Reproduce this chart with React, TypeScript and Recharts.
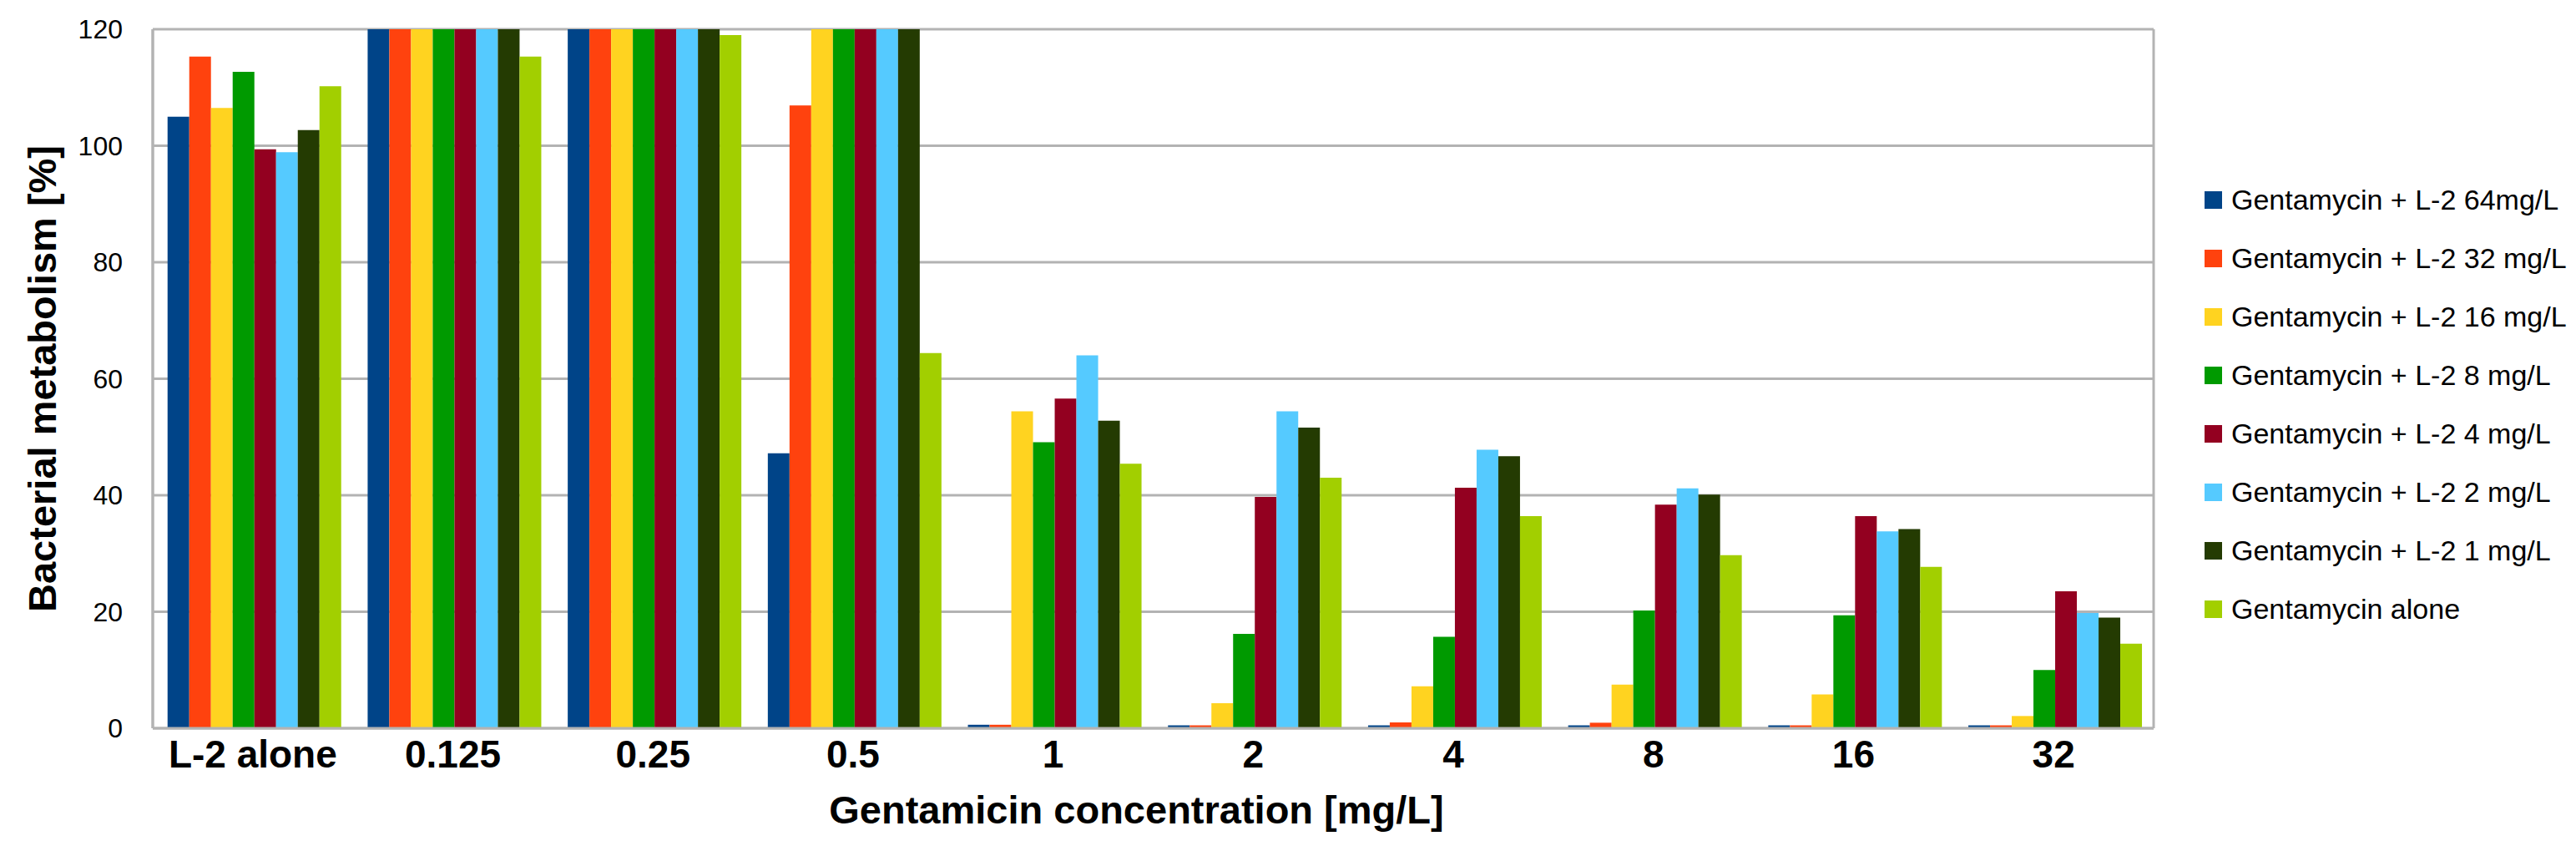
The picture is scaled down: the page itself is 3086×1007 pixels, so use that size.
import React from "react";
import { BarChart, Bar, XAxis, YAxis, CartesianGrid } from "recharts";

const categories = ["L-2 alone", "0.125", "0.25", "0.5", "1", "2", "4", "8", "16", "32"];

const l2_64 = [105, 120, 120, 47.2, 0.6, 0.5, 0.5, 0.5, 0.5, 0.5];
const l2_32 = [115.3, 120, 120, 106.9, 0.6, 0.5, 1.0, 0.95, 0.5, 0.5];
const l2_16 = [106.5, 120, 120, 120, 54.4, 4.3, 7.2, 7.5, 5.8, 2.1];
const l2_8 = [112.7, 120, 120, 120, 49.1, 16.2, 15.7, 20.2, 19.4, 10];
const l2_4 = [99.4, 120, 120, 120, 56.6, 39.7, 41.3, 38.4, 36.4, 23.5];
const l2_2 = [98.9, 120, 120, 120, 64, 54.4, 47.8, 41.2, 33.8, 19.8];
const l2_1 = [102.7, 120, 120, 120, 52.8, 51.6, 46.7, 40.1, 34.2, 19];
const gentAlone = [110.2, 115.3, 119, 64.4, 45.4, 43, 36.4, 29.7, 27.7, 14.5];

const yTicks = [0, 20, 40, 60, 80, 100, 120];

const series = [
  { key: "l2_64", name: "Gentamycin + L-2 64mg/L", values: l2_64, color: "#004488" },
  { key: "l2_32", name: "Gentamycin + L-2 32 mg/L", values: l2_32, color: "#FF420E" },
  { key: "l2_16", name: "Gentamycin + L-2 16 mg/L", values: l2_16, color: "#FFD320" },
  { key: "l2_8", name: "Gentamycin + L-2 8 mg/L", values: l2_8, color: "#009A00" },
  { key: "l2_4", name: "Gentamycin + L-2 4 mg/L", values: l2_4, color: "#930020" },
  { key: "l2_2", name: "Gentamycin + L-2 2 mg/L", values: l2_2, color: "#55CAFF" },
  { key: "l2_1", name: "Gentamycin + L-2 1 mg/L", values: l2_1, color: "#243B02" },
  { key: "alone", name: "Gentamycin alone", values: gentAlone, color: "#A2CF00" },
];

const data = categories.map((c, i) => {
  const row: Record<string, string | number> = { conc: c };
  series.forEach((s) => { row[s.key] = s.values[i]; });
  return row;
});

const GRID = "#B3B3B3";
const FONT = "'Liberation Sans', Arial, sans-serif";

const YTitle = ({ viewBox }: any) => {
  const cy = viewBox.y + viewBox.height / 2;
  return (
    <text x={50} y={cy} transform={`rotate(-90, 50, ${cy})`} textAnchor="middle"
      dominantBaseline="central" fontSize={47} fontWeight="bold" fill="#000" fontFamily={FONT}>
      Bacterial metabolism [%]
    </text>
  );
};

const XTitle = ({ viewBox }: any) => (
  <text x={viewBox.x + viewBox.width / 2 - 20} y={986} textAnchor="middle"
    fontSize={47} fontWeight="bold" fill="#000" fontFamily={FONT}>
    Gentamicin concentration [mg/L]
  </text>
);

export default function App() {
  return (
    <div style={{ position: "relative", width: 3086, height: 1007, background: "#fff", fontFamily: FONT }}>
      <style>{`body{margin:0}`}</style>
      <BarChart width={3086} height={1007} data={data}
        margin={{ top: 35, right: 506, bottom: 0, left: 0 }}
        barCategoryGap="7.4%" barGap={0}>
        <CartesianGrid stroke={GRID} strokeWidth={3}
          verticalCoordinatesGenerator={({ offset }: any) => [offset.left, offset.left + offset.width]} />
        <XAxis dataKey="conc" height={135} interval={0} tickLine={false} tickSize={0} tickMargin={14}
          axisLine={{ stroke: GRID, strokeWidth: 3 }}
          tick={{ fontSize: 46, fontWeight: "bold", fill: "#000", fontFamily: FONT }}
          label={{ content: XTitle }} />
        <YAxis width={183} domain={[0, 120]} ticks={yTicks} allowDataOverflow tickLine={false}
          tickSize={0} tickMargin={36} axisLine={{ stroke: GRID, strokeWidth: 3 }}
          tick={{ fontSize: 32, fill: "#000", fontFamily: FONT }}
          label={{ content: YTitle }} />
        {series.map((s) => (
          <Bar key={s.key} dataKey={s.key} name={s.name} fill={s.color} isAnimationActive={false} />
        ))}
      </BarChart>
      <ul style={{ position: "absolute", left: 2641, top: 204, margin: 0, padding: 0, listStyle: "none" }}>
        {series.map((s) => (
          <li key={s.key} style={{ height: 70, display: "flex", alignItems: "center", whiteSpace: "nowrap" }}>
            <span style={{ width: 21, height: 21, background: s.color, display: "inline-block", marginRight: 11 }} />
            <span style={{ fontSize: 34, color: "#000" }}>{s.name}</span>
          </li>
        ))}
      </ul>
    </div>
  );
}
